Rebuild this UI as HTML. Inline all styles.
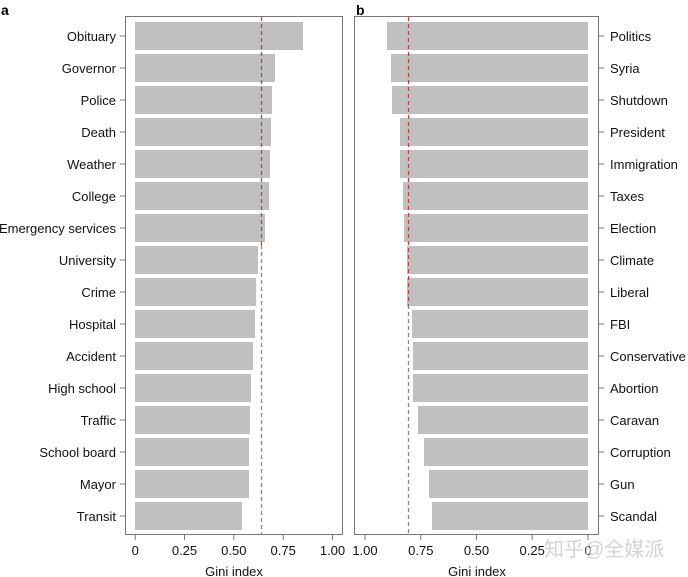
<!DOCTYPE html>
<html><head><meta charset="utf-8"><style>
html,body{margin:0;padding:0;background:#fff;}
svg{display:block;font-family:"Liberation Sans",Arial,sans-serif;}
</style></head><body>
<svg width="688" height="577" viewBox="0 0 688 577" xmlns="http://www.w3.org/2000/svg">
<rect width="688" height="577" fill="#fff"/>
<text x="1" y="15" font-size="14" font-weight="bold">a</text>
<text x="356" y="15" font-size="14" font-weight="bold">b</text>
<rect x="125.5" y="16.5" width="217" height="518" fill="none" stroke="#777" stroke-width="1"/>
<rect x="354.5" y="16.5" width="244" height="518" fill="none" stroke="#777" stroke-width="1"/>
<g fill="#c0c0c0">
<rect x="135" y="22" width="168" height="28"/>
<rect x="135" y="54" width="140" height="28"/>
<rect x="135" y="86" width="137" height="28"/>
<rect x="135" y="118" width="136" height="28"/>
<rect x="135" y="150" width="135" height="28"/>
<rect x="135" y="182" width="134" height="28"/>
<rect x="135" y="214" width="130" height="28"/>
<rect x="135" y="246" width="123" height="28"/>
<rect x="135" y="278" width="121" height="28"/>
<rect x="135" y="310" width="120" height="28"/>
<rect x="135" y="342" width="118" height="28"/>
<rect x="135" y="374" width="116" height="28"/>
<rect x="135" y="406" width="115" height="28"/>
<rect x="135" y="438" width="114" height="28"/>
<rect x="135" y="470" width="114" height="28"/>
<rect x="135" y="502" width="107" height="28"/>
<rect x="387" y="22" width="201" height="28"/>
<rect x="391" y="54" width="197" height="28"/>
<rect x="392" y="86" width="196" height="28"/>
<rect x="400" y="118" width="188" height="28"/>
<rect x="400" y="150" width="188" height="28"/>
<rect x="403" y="182" width="185" height="28"/>
<rect x="404" y="214" width="184" height="28"/>
<rect x="407" y="246" width="181" height="28"/>
<rect x="407" y="278" width="181" height="28"/>
<rect x="412" y="310" width="176" height="28"/>
<rect x="413" y="342" width="175" height="28"/>
<rect x="413" y="374" width="175" height="28"/>
<rect x="418" y="406" width="170" height="28"/>
<rect x="424" y="438" width="164" height="28"/>
<rect x="429" y="470" width="159" height="28"/>
<rect x="432" y="502" width="156" height="28"/>
</g>
<line x1="261.5" y1="17" x2="261.5" y2="245" stroke="#c84040" stroke-width="1.3" stroke-dasharray="4,3"/>
<line x1="261.5" y1="245" x2="261.5" y2="534" stroke="#888" stroke-width="1.3" stroke-dasharray="4,3"/>
<line x1="408.5" y1="17" x2="408.5" y2="305" stroke="#c84040" stroke-width="1.3" stroke-dasharray="4,3"/>
<line x1="408.5" y1="305" x2="408.5" y2="534" stroke="#888" stroke-width="1.3" stroke-dasharray="4,3"/>
<g stroke="#777" stroke-width="1">
<line x1="120" y1="36" x2="125" y2="36"/><line x1="120" y1="68" x2="125" y2="68"/><line x1="120" y1="100" x2="125" y2="100"/><line x1="120" y1="132" x2="125" y2="132"/><line x1="120" y1="164" x2="125" y2="164"/><line x1="120" y1="196" x2="125" y2="196"/><line x1="120" y1="228" x2="125" y2="228"/><line x1="120" y1="260" x2="125" y2="260"/><line x1="120" y1="292" x2="125" y2="292"/><line x1="120" y1="324" x2="125" y2="324"/><line x1="120" y1="356" x2="125" y2="356"/><line x1="120" y1="388" x2="125" y2="388"/><line x1="120" y1="420" x2="125" y2="420"/><line x1="120" y1="452" x2="125" y2="452"/><line x1="120" y1="484" x2="125" y2="484"/><line x1="120" y1="516" x2="125" y2="516"/>
<line x1="599" y1="36" x2="604" y2="36"/><line x1="599" y1="68" x2="604" y2="68"/><line x1="599" y1="100" x2="604" y2="100"/><line x1="599" y1="132" x2="604" y2="132"/><line x1="599" y1="164" x2="604" y2="164"/><line x1="599" y1="196" x2="604" y2="196"/><line x1="599" y1="228" x2="604" y2="228"/><line x1="599" y1="260" x2="604" y2="260"/><line x1="599" y1="292" x2="604" y2="292"/><line x1="599" y1="324" x2="604" y2="324"/><line x1="599" y1="356" x2="604" y2="356"/><line x1="599" y1="388" x2="604" y2="388"/><line x1="599" y1="420" x2="604" y2="420"/><line x1="599" y1="452" x2="604" y2="452"/><line x1="599" y1="484" x2="604" y2="484"/><line x1="599" y1="516" x2="604" y2="516"/>
<line x1="135.2" y1="535" x2="135.2" y2="540"/><line x1="184.5" y1="535" x2="184.5" y2="540"/><line x1="233.8" y1="535" x2="233.8" y2="540"/><line x1="283.2" y1="535" x2="283.2" y2="540"/><line x1="332.5" y1="535" x2="332.5" y2="540"/>
<line x1="365" y1="535" x2="365" y2="540"/><line x1="420.8" y1="535" x2="420.8" y2="540"/><line x1="476.5" y1="535" x2="476.5" y2="540"/><line x1="532.2" y1="535" x2="532.2" y2="540"/><line x1="588" y1="535" x2="588" y2="540"/>
</g>
<g font-size="13" fill="#111" text-anchor="end">
<text x="116" y="41">Obituary</text><text x="116" y="73">Governor</text><text x="116" y="105">Police</text><text x="116" y="137">Death</text><text x="116" y="169">Weather</text><text x="116" y="201">College</text><text x="116" y="233">Emergency services</text><text x="116" y="265">University</text><text x="116" y="297">Crime</text><text x="116" y="329">Hospital</text><text x="116" y="361">Accident</text><text x="116" y="393">High school</text><text x="116" y="425">Traffic</text><text x="116" y="457">School board</text><text x="116" y="489">Mayor</text><text x="116" y="521">Transit</text>
</g>
<g font-size="13" fill="#111">
<text x="610" y="41">Politics</text><text x="610" y="73">Syria</text><text x="610" y="105">Shutdown</text><text x="610" y="137">President</text><text x="610" y="169">Immigration</text><text x="610" y="201">Taxes</text><text x="610" y="233">Election</text><text x="610" y="265">Climate</text><text x="610" y="297">Liberal</text><text x="610" y="329">FBI</text><text x="610" y="361">Conservative</text><text x="610" y="393">Abortion</text><text x="610" y="425">Caravan</text><text x="610" y="457">Corruption</text><text x="610" y="489">Gun</text><text x="610" y="521">Scandal</text>
</g>
<g font-size="13" fill="#111" text-anchor="middle">
<text x="135.2" y="555">0</text><text x="184.5" y="555">0.25</text><text x="233.8" y="555">0.50</text><text x="283.2" y="555">0.75</text><text x="332.5" y="555">1.00</text>
<text x="365" y="555">1.00</text><text x="420.8" y="555">0.75</text><text x="476.5" y="555">0.50</text><text x="532.2" y="555">0.25</text><text x="588" y="555">0</text>
<text x="234" y="576" font-size="13">Gini index</text><text x="477" y="576" font-size="13">Gini index</text>
</g>
<text x="544" y="556" font-size="20" fill="#ccc" font-family="'Liberation Sans','Noto Sans CJK SC',sans-serif" opacity="0.85">知乎@全媒派</text>
</svg>
</body></html>
